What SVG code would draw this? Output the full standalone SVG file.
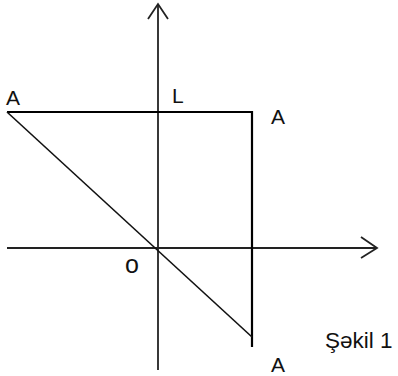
<svg xmlns="http://www.w3.org/2000/svg" width="398" height="376" viewBox="0 0 398 376">
<style>
.ax{stroke:#222;stroke-width:1.8;fill:none}
.ln{stroke:#000;stroke-width:2.2;fill:none}
.dg{stroke:#111;stroke-width:1.6;fill:none}
text{font-family:"Liberation Sans",Arial,sans-serif;fill:#111}
</style>
<rect width="398" height="376" fill="#fff"/>
<g id="connectors">
<line class="ax" x1="158" y1="4" x2="158" y2="370"/>
<polyline class="ax" points="148,19 158,4 168,19"/>
<line class="ax" x1="7" y1="248" x2="377" y2="248"/>
<polyline class="ax" points="361,237 377,248 361,258"/>
<polyline class="ln" points="7,112 252,112 252,347"/>
<line class="dg" x1="7" y1="112" x2="252" y2="337"/>
</g>
<g id="labels">
<text x="6" y="105" font-size="21">A</text>
<text x="172" y="103" font-size="21">L</text>
<text x="271" y="124" font-size="21">A</text>
<text x="271" y="372" font-size="21">A</text>
<text x="125" y="273" font-size="25">o</text>
<text x="325" y="348" font-size="22.5">Şəkil 1</text>
</g>
</svg>
